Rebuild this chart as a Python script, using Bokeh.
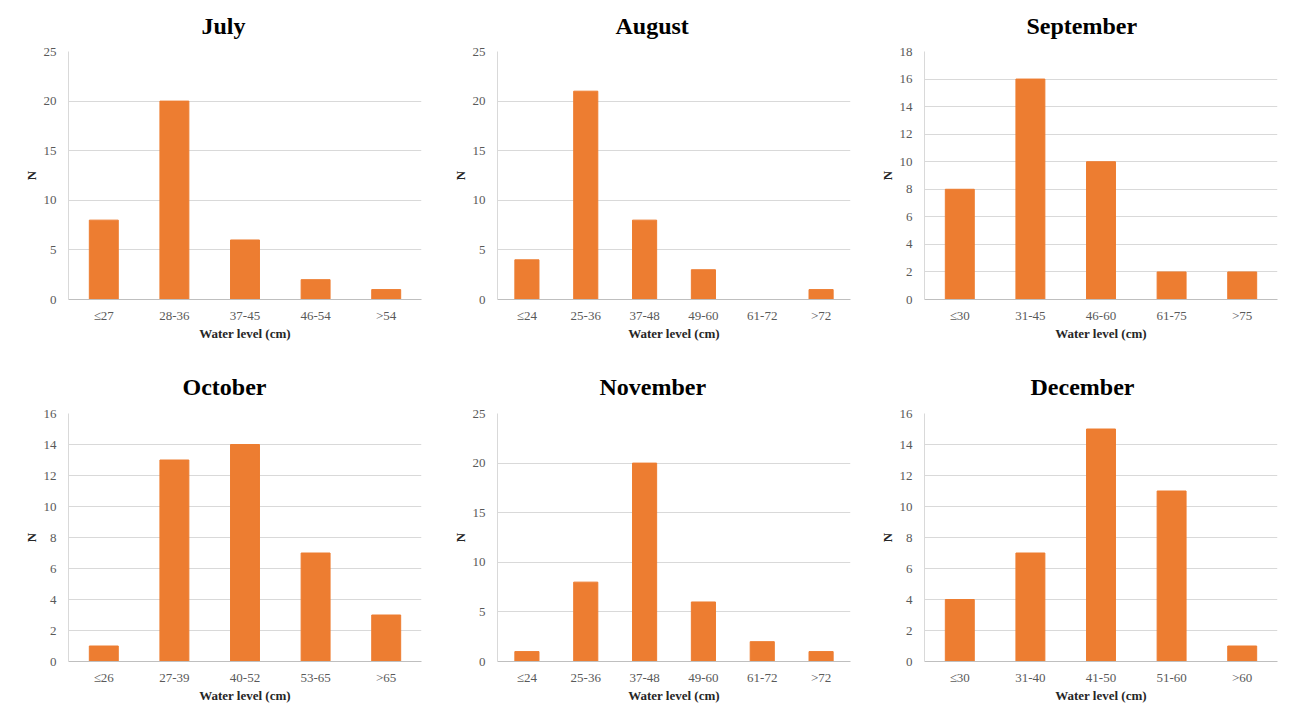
from bokeh.plotting import figure
from bokeh.layouts import gridplot
from bokeh.models import FactorRange, Range1d, SingleIntervalTicker, ColumnDataSource, Title
from bokeh.embed import file_html
from bokeh.resources import INLINE

months = ["July", "August", "September", "October", "November", "December"]

july_bins = ["≤27", "28-36", "37-45", "46-54", ">54"]
july_n = [8, 20, 6, 2, 1]
aug_bins = ["≤24", "25-36", "37-48", "49-60", "61-72", ">72"]
aug_n = [4, 21, 8, 3, 0, 1]
sep_bins = ["≤30", "31-45", "46-60", "61-75", ">75"]
sep_n = [8, 16, 10, 2, 2]
oct_bins = ["≤26", "27-39", "40-52", "53-65", ">65"]
oct_n = [1, 13, 14, 7, 3]
nov_bins = ["≤24", "25-36", "37-48", "49-60", "61-72", ">72"]
nov_n = [1, 8, 20, 6, 2, 1]
dec_bins = ["≤30", "31-40", "41-50", "51-60", ">60"]
dec_n = [4, 7, 15, 11, 1]

y_max = [25, 25, 18, 16, 25, 16]
y_step = [5, 5, 2, 2, 5, 2]

bins_all = [july_bins, aug_bins, sep_bins, oct_bins, nov_bins, dec_bins]
n_all = [july_n, aug_n, sep_n, oct_n, nov_n, dec_n]

FONT = "Liberation Serif"
BAR = "#ED7D31"

widths = [431, 424, 424]
left_b = [68, 66, 69]
right_b = [10, 5, 2]
title_off = [133, 118, 102, 114, 102, 106]

figs = []
for i, (m, bins, n) in enumerate(zip(months, bins_all, n_all)):
    col = i % 3
    row = i // 3
    top_b = 51 if row == 0 else 56
    bot_b = 58 if row == 0 else 46
    h = top_b + 248 + bot_b
    p = figure(width=widths[col], height=h, output_backend="svg", toolbar_location=None,
               x_range=FactorRange(*bins), y_range=Range1d(0, y_max[i]),
               min_border_left=left_b[col], min_border_right=right_b[col],
               min_border_top=top_b, min_border_bottom=bot_b)
    t = Title(text=m, align="left", text_font=FONT, text_font_size="24px",
              text_font_style="bold", text_color="black", offset=title_off[i],
              vertical_align="top" if row == 0 else "bottom",
              standoff=22 if row == 0 else 27)
    p.add_layout(t, "above")
    src = ColumnDataSource(dict(x=bins, top=n))
    p.vbar(x="x", top="top", width=0.41, source=src, fill_color=BAR, line_color=BAR)
    p.outline_line_color = None
    p.xgrid.visible = False
    p.ygrid.grid_line_color = "#d9d9d9"
    p.yaxis.ticker = SingleIntervalTicker(interval=y_step[i])
    for ax in (p.xaxis[0], p.yaxis[0]):
        ax.major_tick_line_color = None
        ax.minor_tick_line_color = None
        ax.major_label_text_font = FONT
        ax.major_label_text_font_size = "13px"
        ax.major_label_text_color = "#595959"
        ax.axis_label_text_font = FONT
        ax.axis_label_text_font_size = "13px"
        ax.axis_label_text_font_style = "bold"
        ax.axis_label_text_color = "#262626"
    p.yaxis.axis_line_color = "#d9d9d9"
    p.xaxis.axis_line_color = "#bfbfbf"
    p.yaxis.axis_label = "N"
    p.xaxis.axis_label = "Water level (cm)"
    p.yaxis.major_label_standoff = 6
    p.xaxis.major_label_standoff = 2
    p.yaxis.axis_label_standoff = 2
    p.xaxis.axis_label_standoff = 0
    p.background_fill_color = "white"
    figs.append(p)

grid = gridplot([figs[0:3], figs[3:6]], toolbar_location=None)
open("out.html", "w").write(file_html(grid, INLINE))
